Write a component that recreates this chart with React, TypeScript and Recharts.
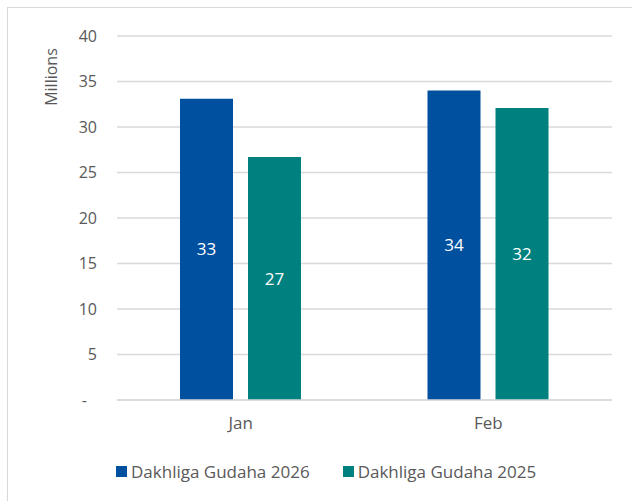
import { Bar, BarChart, CartesianGrid, LabelList, XAxis, YAxis } from 'recharts'

const months = ['Jan', 'Feb']
const income2026 = [33.1, 34.0]
const income2025 = [26.7, 32.1]
const yTicks = [0, 5, 10, 15, 20, 25, 30, 35, 40]

const seriesNames = ['Dakhliga Gudaha 2026', 'Dakhliga Gudaha 2025']
const colors = ['#0050A0', '#00817F']

const FONT = '"Open Sans", sans-serif'
const TEXT = '#595959'

const data = months.map((month, i) => ({
  month,
  y2026: income2026[i],
  y2025: income2025[i],
}))

function YTick(props: any) {
  const { x, y, payload } = props
  const zero = payload.value === 0
  return (
    <text
      x={zero ? x - 10 : x}
      y={y}
      dy='0.355em'
      textAnchor='end'
      fill={TEXT}
      fontSize={16}
      fontFamily={FONT}
    >
      {zero ? '-' : payload.value}
    </text>
  )
}

function MillionsLabel(props: any) {
  const vb = props.viewBox || { x: 0, y: 36 }
  return (
    <text
      x={vb.x + 57}
      y={77}
      transform={`rotate(-90, ${vb.x + 57}, 77)`}
      textAnchor='middle'
      fill={TEXT}
      fontSize={16}
      fontFamily={FONT}
    >
      Millions
    </text>
  )
}

export default function App() {
  return (
    <div
      style={{
        position: 'fixed',
        left: 0,
        top: 0,
        width: 632,
        height: 501,
        overflow: 'hidden',
        background: '#fff',
      }}
    >
      <div
        style={{
          position: 'absolute',
          left: 7,
          top: 7,
          width: 700,
          height: 600,
          border: '1px solid #D9D9D9',
        }}
      />
      <div style={{ position: 'absolute', left: 0, top: 0 }}>
        <BarChart
          width={632}
          height={501}
          data={data}
          margin={{ top: 36, right: 20, left: 0, bottom: 71 }}
          barSize={53}
          barGap={15}
        >
          <CartesianGrid vertical={false} stroke='#D9D9D9' strokeWidth={1.5} />
          <XAxis
            dataKey='month'
            axisLine={{ stroke: '#D9D9D9', strokeWidth: 1.5 }}
            tickLine={false}
            tickSize={0}
            tickMargin={17}
            tick={{ fill: TEXT, fontSize: 17, fontFamily: FONT }}
          />
          <YAxis
            width={117}
            domain={[0, 40]}
            ticks={yTicks}
            axisLine={false}
            tickLine={false}
            tickSize={0}
            tickMargin={20}
            tick={<YTick />}
            label={<MillionsLabel />}
          />
          <Bar dataKey='y2026' fill={colors[0]} isAnimationActive={false}>
            <LabelList
              dataKey='y2026'
              position='center'
              formatter={(v: any) => Math.round(v)}
              fill='#fff'
              fontSize={17}
              fontFamily={FONT}
            />
          </Bar>
          <Bar dataKey='y2025' fill={colors[1]} isAnimationActive={false}>
            <LabelList
              dataKey='y2025'
              position='center'
              formatter={(v: any) => Math.round(v)}
              fill='#fff'
              fontSize={17}
              fontFamily={FONT}
            />
          </Bar>
        </BarChart>
      </div>
      <div
        style={{
          position: 'absolute',
          left: 116,
          top: 460,
          display: 'flex',
          alignItems: 'center',
          gap: 33,
          fontFamily: FONT,
          fontSize: 17,
          color: TEXT,
          whiteSpace: 'nowrap',
        }}
      >
        {seriesNames.map((name, i) => (
          <div key={name} style={{ display: 'flex', alignItems: 'center' }}>
            <span
              style={{
                display: 'inline-block',
                width: 11,
                height: 11,
                background: colors[i],
                marginRight: 4,
              }}
            />
            <span>{name}</span>
          </div>
        ))}
      </div>
    </div>
  )
}
